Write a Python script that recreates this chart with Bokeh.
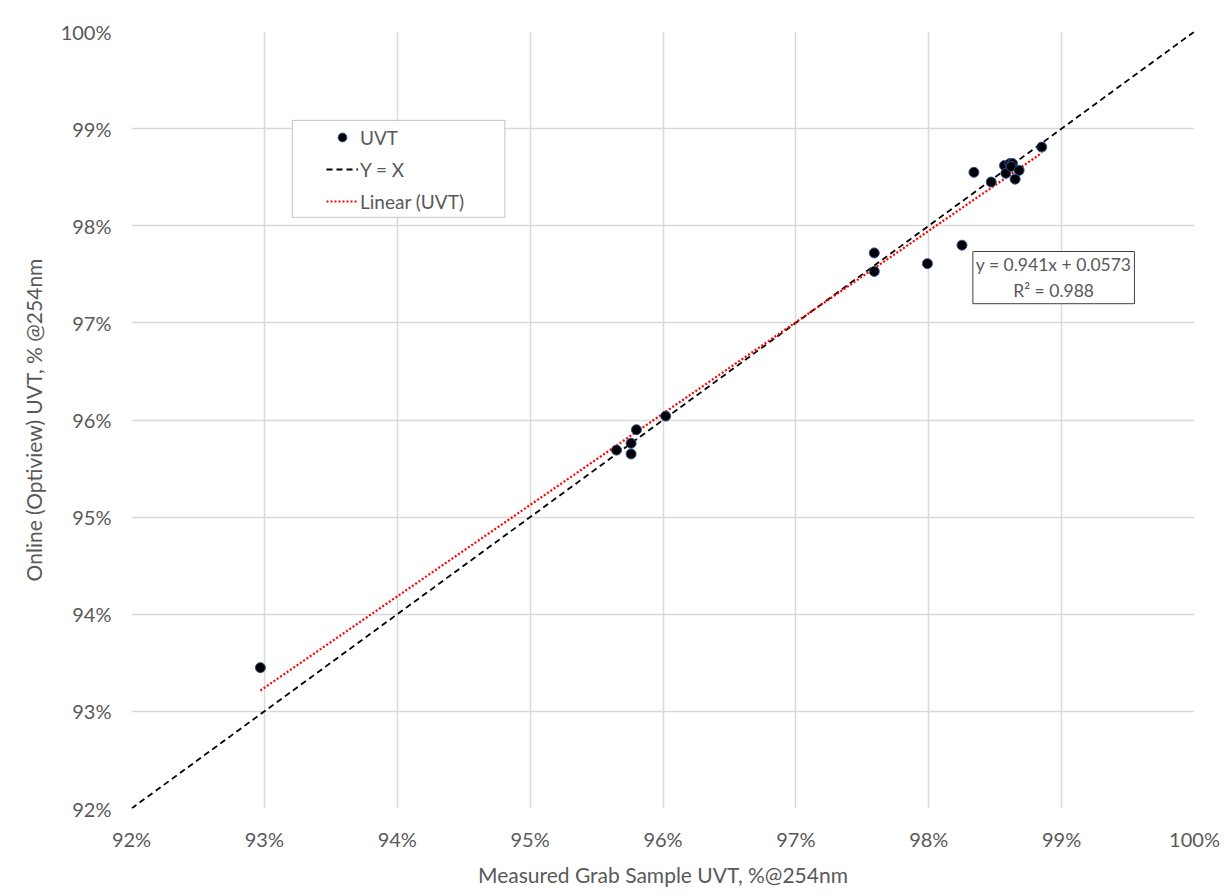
from bokeh.plotting import figure
from bokeh.models import (ColumnDataSource, Legend, LegendItem, Label, BoxAnnotation,
                          FixedTicker, CustomJSTickFormatter, Range1d)
from bokeh.embed import file_html
from bokeh.resources import INLINE

# Data (percent)
grab_uvt = [92.97, 95.65, 95.76, 95.76, 95.80, 96.02, 97.59, 97.59, 97.99, 98.25,
            98.34, 98.47, 98.57, 98.58, 98.61, 98.63, 98.62, 98.68, 98.65, 98.85]
online_uvt = [93.45, 95.69, 95.76, 95.65, 95.90, 96.04, 97.72, 97.53, 97.61, 97.80,
              98.55, 98.45, 98.62, 98.54, 98.64, 98.64, 98.61, 98.57, 98.48, 98.81]
slope = 0.941
intercept = 0.0573
r_squared = 0.988
axis_ticks = [92, 93, 94, 95, 96, 97, 98, 99, 100]

FONT = "Lato"
GRAY = "#595959"

p = figure(width=1225, height=895, output_backend="svg", toolbar_location=None,
           x_range=Range1d(92, 100), y_range=Range1d(92, 100),
           min_border_left=131, min_border_right=31, min_border_top=31,
           min_border_bottom=87)
p.background_fill_color = "white"
p.outline_line_color = None

for ax in (p.xaxis[0], p.yaxis[0]):
    ax.ticker = FixedTicker(ticks=axis_ticks)
    ax.formatter = CustomJSTickFormatter(code="return tick.toFixed(0) + '%';")
    ax.axis_line_color = None
    ax.major_tick_line_color = None
    ax.minor_tick_line_color = None
    ax.major_label_text_font = FONT
    ax.major_label_text_font_size = "20px"
    ax.major_label_text_color = GRAY
    ax.axis_label_text_font = FONT
    ax.axis_label_text_font_size = "21px"
    ax.axis_label_text_font_style = "normal"
    ax.axis_label_text_color = GRAY

p.xaxis.major_label_standoff = 12
p.yaxis.major_label_standoff = 14
p.xaxis.axis_label = "Measured Grab Sample UVT, %@254nm"
p.yaxis.axis_label = "Online (Optiview) UVT, % @254nm"
p.xaxis.axis_label_standoff = 8
p.yaxis.axis_label_standoff = 12

p.xgrid.ticker = FixedTicker(ticks=axis_ticks)
p.ygrid.ticker = FixedTicker(ticks=axis_ticks)
p.xgrid.grid_line_color = "#d9d9d9"
p.ygrid.grid_line_color = "#d9d9d9"
p.xgrid.grid_line_width = 1.5
p.ygrid.grid_line_width = 1.5

# Y = X line
yx_x = [axis_ticks[0], axis_ticks[-1]]
r_yx = p.line(yx_x, yx_x, line_color="black", line_width=1.8, line_dash="6 4")

# Linear trendline from displayed equation
xmin, xmax = min(grab_uvt), max(grab_uvt)
tx = [xmin, xmax]
ty = [(slope * (x / 100) + intercept) * 100 for x in tx]
r_lin = p.line(tx, ty, line_color="#ff0000", line_width=2.2, line_dash="2 2")

src = ColumnDataSource(dict(x=grab_uvt, y=online_uvt))
r_pts = p.scatter("x", "y", source=src, size=10, fill_color="black",
                  line_color="#2f5597", line_width=1)

# legend frame
p.add_layout(BoxAnnotation(left=93.21, right=94.81, bottom=98.087, top=99.085,
                           fill_color="white", fill_alpha=1,
                           line_color="#404040", line_width=1, level="overlay"))

legend = Legend(items=[LegendItem(label="UVT", renderers=[r_pts]),
                       LegendItem(label="Y = X", renderers=[r_yx]),
                       LegendItem(label="Linear (UVT)", renderers=[r_lin])],
                location=(195, 591))
legend.label_text_font = FONT
legend.label_text_font_size = "19px"
legend.label_text_color = GRAY
legend.border_line_color = None
legend.background_fill_alpha = 0
legend.glyph_width = 32
legend.glyph_height = 22
legend.label_height = 32
legend.spacing = 0
legend.padding = 0
legend.margin = 0
legend.label_standoff = 2
p.add_layout(legend, "center")

eq_label = Label(x=98.94, y=97.735,
                 text="y = 0.941x + 0.0573\nR\u00b2 = {:.3f}".format(r_squared),
                 text_align="center", text_baseline="top",
                 text_font=FONT, text_font_size="17.5px", text_color=GRAY,
                 border_line_color="#404040", border_line_width=1,
                 background_fill_color="white", padding=3)
p.add_layout(eq_label)

open("out.html", "w").write(file_html(p, INLINE))
